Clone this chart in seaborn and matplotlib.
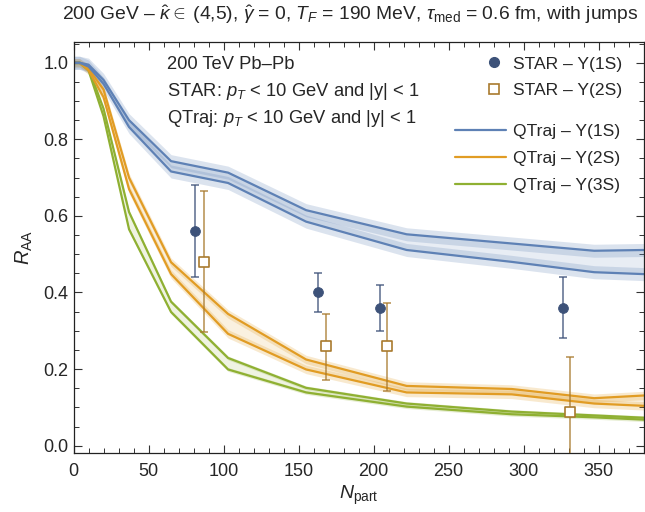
import numpy as np
import pandas as pd
import matplotlib
matplotlib.use("Agg")
import matplotlib.pyplot as plt
from matplotlib.lines import Line2D
from matplotlib.ticker import MultipleLocator, FormatStrFormatter
import seaborn as sns

# QTraj model curves: R_AA vs N_part, bounds for kappa-hat = 4 and 5
npart = [0, 4, 10, 20, 37, 65, 103, 155, 222, 292, 347, 380]
y1s_hi = [1.0, 1.0, 0.995, 0.955, 0.850, 0.743, 0.713, 0.615, 0.552, 0.528, 0.509, 0.511]
y1s_lo = [1.0, 1.0, 0.990, 0.945, 0.832, 0.716, 0.686, 0.585, 0.511, 0.480, 0.453, 0.448]
y2s_hi = [1.0, 1.0, 0.985, 0.930, 0.700, 0.479, 0.344, 0.225, 0.156, 0.148, 0.124, 0.131]
y2s_lo = [1.0, 1.0, 0.980, 0.910, 0.670, 0.448, 0.292, 0.199, 0.139, 0.134, 0.110, 0.104]
y3s_hi = [1.0, 1.0, 0.985, 0.880, 0.610, 0.376, 0.229, 0.151, 0.110, 0.089, 0.079, 0.073]
y3s_lo = [1.0, 1.0, 0.980, 0.860, 0.565, 0.349, 0.199, 0.139, 0.102, 0.082, 0.074, 0.068]
# statistical half-width of each curve
band_err = {"1S": 0.017, "2S": 0.011, "3S": 0.005}

# STAR measurements
star1_n = [81, 163, 204, 326]
star1_y = [0.56, 0.40, 0.36, 0.36]
star1_lo = [0.44, 0.35, 0.30, 0.28]
star1_hi = [0.68, 0.45, 0.42, 0.44]
star2_n = [87, 168, 209, 331]
star2_y = [0.48, 0.26, 0.26, 0.088]
star2_lo = [0.296, 0.172, 0.144, -0.05]
star2_hi = [0.665, 0.345, 0.373, 0.231]

sns.set_theme(style="ticks")
plt.rcParams["font.family"] = ["Liberation Sans", "DejaVu Sans"]
plt.rcParams["mathtext.fontset"] = "custom"
plt.rcParams["mathtext.rm"] = "Liberation Sans"
plt.rcParams["mathtext.it"] = "Liberation Sans:italic"
plt.rcParams["mathtext.bf"] = "Liberation Sans:bold"

BLUE = "#5E81B5"
ORANGE = "#E19C24"
GREEN = "#8FB032"
NAVY = "#3D5279"
BROWN = "#A97A2E"

fig = plt.figure(figsize=(6.45, 5.12), dpi=100)
ax = fig.add_axes([0.114, 0.1146, 0.884, 0.804])

curves = pd.DataFrame({"npart": npart,
                       "1S_hi": y1s_hi, "1S_lo": y1s_lo,
                       "2S_hi": y2s_hi, "2S_lo": y2s_lo,
                       "3S_hi": y3s_hi, "3S_lo": y3s_lo})

for key, col in [("3S", GREEN), ("2S", ORANGE), ("1S", BLUE)]:
    hi = curves[f"{key}_hi"].to_numpy()
    lo = curves[f"{key}_lo"].to_numpy()
    e = band_err[key]
    ax.fill_between(curves["npart"], hi - e, hi + e, color=col, alpha=0.22, lw=0)
    ax.fill_between(curves["npart"], lo - e, lo + e, color=col, alpha=0.22, lw=0)
    ax.fill_between(curves["npart"], lo, hi, color=col, alpha=0.14, lw=0)
    sns.lineplot(data=curves, x="npart", y=f"{key}_hi", color=col, lw=1.6, ax=ax)
    sns.lineplot(data=curves, x="npart", y=f"{key}_lo", color=col, lw=1.6, ax=ax)

# STAR data with error bars
s1 = pd.DataFrame({"n": star1_n, "y": star1_y})
s2 = pd.DataFrame({"n": star2_n, "y": star2_y})
ax.errorbar(star1_n, star1_y,
            yerr=[np.subtract(star1_y, star1_lo), np.subtract(star1_hi, star1_y)],
            fmt="none", ecolor=NAVY, elinewidth=1.1, capsize=2.8, capthick=1.1, alpha=0.85, zorder=4)
ax.errorbar(star2_n, star2_y,
            yerr=[np.subtract(star2_y, star2_lo), np.subtract(star2_hi, star2_y)],
            fmt="none", ecolor=BROWN, elinewidth=1.1, capsize=2.8, capthick=1.1, alpha=0.85, zorder=4)
sns.scatterplot(data=s1, x="n", y="y", marker="o", s=50, color=NAVY, edgecolor=NAVY, ax=ax, zorder=5)
sns.scatterplot(data=s2, x="n", y="y", marker="s", s=42, facecolor="white", edgecolor=BROWN,
                linewidth=1.2, ax=ax, zorder=5)

ax.set_xlim(0, 380)
ax.set_ylim(-0.02, 1.055)
ax.xaxis.set_major_locator(MultipleLocator(50))
ax.xaxis.set_minor_locator(MultipleLocator(10))
ax.yaxis.set_major_locator(MultipleLocator(0.2))
ax.yaxis.set_minor_locator(MultipleLocator(0.05))
ax.yaxis.set_major_formatter(FormatStrFormatter("%.1f"))
ax.tick_params(which="both", direction="in", top=True, right=True, labelsize=13,
               color="#333333")
ax.tick_params(which="major", length=6, width=0.8)
ax.tick_params(which="minor", length=3.5, width=0.7)
ax.tick_params(axis="x", which="major", pad=7)
for sp in ax.spines.values():
    sp.set_linewidth(0.9)
    sp.set_color("#222222")

ax.set_xlabel(r"$N_{\rm part}$", fontsize=14, labelpad=3)
ax.set_ylabel(r"$R_{\rm AA}$", fontsize=14.5, labelpad=6)

fig.text(0.543, 0.972, r"200 GeV – $\hat{\kappa} \in \;$(4,5), $\hat{\gamma}$ = 0, $T_F$ = 190 MeV, "
         r"$\tau_{\rm med}$ = 0.6 fm, with jumps", ha="center", va="center", fontsize=13.9)

for ty, txt in [(0.874, "200 TeV Pb–Pb"),
                (0.821, r"STAR: $p_T$ < 10 GeV and |y| < 1"),
                (0.768, r"QTraj: $p_T$ < 10 GeV and |y| < 1")]:
    fig.text(0.259, ty, txt, fontsize=13.2, va="center", ha="left")

h_pts = [Line2D([], [], ls="none", marker="o", ms=7, color=NAVY),
         Line2D([], [], ls="none", marker="s", ms=6.5, mfc="white", mec=BROWN, mew=1.2)]
leg1 = ax.legend(h_pts, ["STAR – Υ(1S)", "STAR – Υ(2S)"], loc="upper left",
                 bbox_to_anchor=(485 / 645, 0.89), bbox_transform=fig.transFigure,
                 frameon=False, fontsize=12.6, borderpad=0, borderaxespad=0,
                 handlelength=1.0, labelspacing=0.62, handletextpad=0.59)
ax.add_artist(leg1)
h_lines = [Line2D([], [], color=c, lw=1.6) for c in (BLUE, ORANGE, GREEN)]
ax.legend(h_lines, ["QTraj – Υ(1S)", "QTraj – Υ(2S)", "QTraj – Υ(3S)"], loc="upper left",
          bbox_to_anchor=(455 / 645, 0.758), bbox_transform=fig.transFigure,
          frameon=False, fontsize=12.6, borderpad=0, borderaxespad=0,
          handlelength=2.9, labelspacing=0.68, handletextpad=0.4)

fig.savefig("out.png", dpi=100)
